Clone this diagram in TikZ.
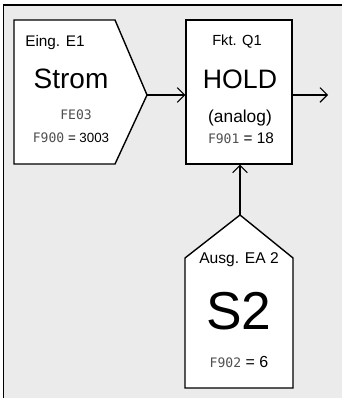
\documentclass[tikz,border=0pt]{standalone}
\usepackage{fontspec}
\setmainfont{Liberation Sans}
\newfontfamily\segfont{DejaVu Sans Mono}
\usetikzlibrary{arrows.meta}
\definecolor{bggray}{HTML}{EBEBEB}
\definecolor{seggray}{HTML}{505050}
\tikzset{
  box/.style={draw=black, fill=white, line width=1.05pt, line join=miter},
  conn/.style={line width=1.05pt, -{Straight Barb[length=5.5pt,width=11pt,line width=0.8pt]}},
  lbl/.style={inner sep=0pt, anchor=center},
  seg/.style={font=\segfont\fontsize{9.8}{11}\selectfont, text=seggray},
}
\begin{document}
\begin{tikzpicture}[x=0.75pt,y=-0.75pt]
\useasboundingbox (0,0) rectangle (342,398);
% frame
\fill[bggray] (3.5,5) rectangle (342,398);
\draw[line width=1.2pt] (3.5,398) -- (3.5,5) -- (342,5);
% input box
\draw[box] (14,20) -- (115,20) -- (147,95) -- (115,164) -- (14,164) -- cycle;
\coordinate (e1tip) at (147,95);
% function box
\node[box, minimum width=79.5pt, minimum height=108pt, inner sep=0pt] (hold) at (239,92) {};
% output box
\draw[box] (185,258) -- (240,215) -- (293,258) -- (293,388) -- (185,388) -- cycle;
\coordinate (s2tip) at (240,215);
\coordinate (out) at (328,95);
% connectors
\draw[conn] (e1tip) -- (hold.west |- e1tip);
\draw[conn] (hold.east |- e1tip) -- (out);
\draw[conn] (s2tip) -- (hold.south -| s2tip);
% texts input
\node[lbl, font=\fontsize{11.5}{13}\selectfont] (t1) at (55,43) {Eing. E1};
\node[lbl, font=\fontsize{21}{23}\selectfont] (t2) at (71,79) {Strom};
\node[lbl, seg] (t3) at (76,115) {FE03};
\node[lbl] (t4) at (71,138) {{\segfont\color{seggray}\fontsize{9.8}{11}\selectfont F900}\fontsize{10}{12}\selectfont{} = 3003};
% texts function
\node[lbl, font=\fontsize{11}{13}\selectfont] (t5) at (237,42) {Fkt. Q1};
\node[lbl, font=\fontsize{20}{22}\selectfont] (t6) at (240,79) {HOLD};
\node[lbl, font=\fontsize{13}{15}\selectfont] (t7) at (240,118) {(analog)};
\node[lbl] (t8) at (241,138) {{\segfont\color{seggray}\fontsize{9.8}{11}\selectfont F901}\fontsize{11.5}{13}\selectfont{} = 18};
% texts output
\node[lbl, font=\fontsize{11.7}{13}\selectfont] (t9) at (239,260) {Ausg. EA 2};
\node[lbl, font=\fontsize{40}{42}\selectfont] (t10) at (239,311) {S2};
\node[lbl] (t11) at (239,362) {{\segfont\color{seggray}\fontsize{9.8}{11}\selectfont F902}\fontsize{12}{14}\selectfont{} = 6};
\end{tikzpicture}
\end{document}
